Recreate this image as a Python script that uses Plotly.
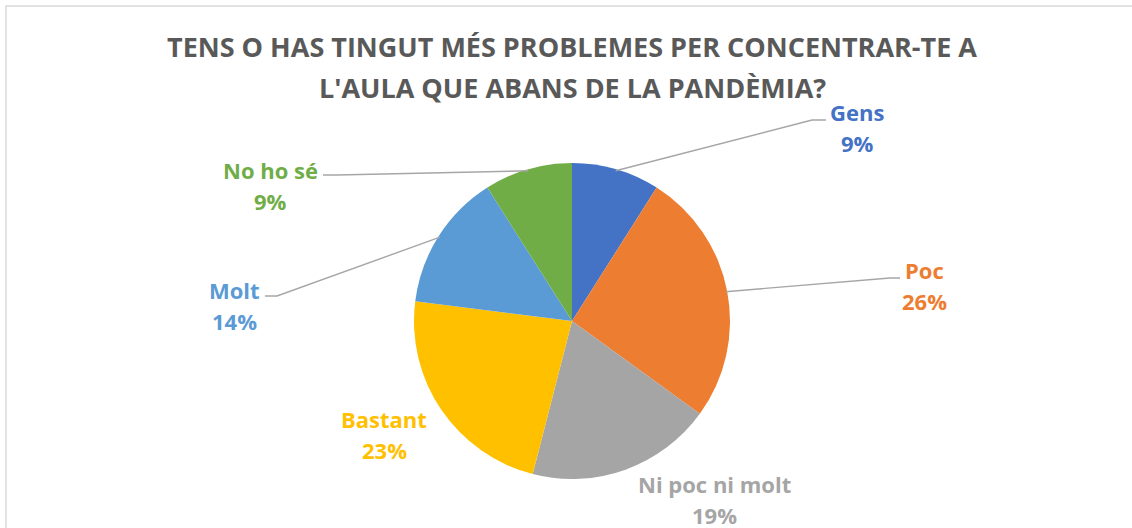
import math
import plotly.graph_objects as go

W, H = 1132, 528

# ---- data ----
categories = ["Gens", "Poc", "Ni poc ni molt", "Bastant", "Molt", "No ho sé"]
values = [9, 26, 19, 23, 14, 9]
colors = ["#4472C4", "#ED7D31", "#A5A5A5", "#FFC000", "#5B9BD5", "#70AD47"]
title_lines = ["TENS O HAS TINGUT MÉS PROBLEMES PER CONCENTRAR-TE A",
               "L'AULA QUE ABANS DE LA PANDÈMIA?"]

# ---- layout (pixel positions) ----
CX, CY, R = 572, 321, 158
label_pos = {  # centre of first text line
    "Gens": (857, 112), "Poc": (924, 270), "Ni poc ni molt": (714, 484),
    "Bastant": (384, 419), "Molt": (234, 290), "No ho sé": (270, 170),
}
leader = {  # (elbow, end) of leader lines
    "Gens": ((812, 120), (826, 120)),
    "Poc": ((890, 278), (900, 278)),
    "Molt": ((277, 296), (265, 296)),
    "No ho sé": ((337, 175), (323, 175)),
}


def px(x):
    return x / W


def py(y):
    return 1 - y / H


fig = go.Figure(go.Pie(
    labels=categories, values=values, sort=False, direction="clockwise",
    rotation=0, textinfo="none", hoverinfo="label+percent",
    marker=dict(colors=colors, line=dict(width=0)),
    domain=dict(x=[px(CX - R), px(CX + R)], y=[py(CY + R), py(CY - R)]),
    showlegend=False,
))

annotations = []
shapes = []
total = sum(values)
cum = 0
for cat, v, col in zip(categories, values, colors):
    mid = (cum + v / 2) / total * 2 * math.pi
    cum += v
    lx, ly = label_pos[cat]
    pct = f"{round(v / total * 100)}%"
    for i, t in enumerate([cat, pct]):
        annotations.append(dict(
            x=px(lx), y=py(ly + i * 31), xref="paper", yref="paper",
            text=f"<b>{t}</b>", showarrow=False, xanchor="center", yanchor="middle",
            font=dict(family="Open Sans", size=22, color=col)))
    if cat in leader:
        sx = CX + 0.99 * R * math.sin(mid)
        sy = CY - 0.99 * R * math.cos(mid)
        (ex, ey), (fx, fy) = leader[cat]
        path = f"M {px(sx)} {py(sy)} L {px(ex)} {py(ey)} L {px(fx)} {py(fy)}"
        shapes.append(dict(type="path", path=path, xref="paper", yref="paper",
                           line=dict(color="#A6A6A6", width=1.4)))

for i, t in enumerate(title_lines):
    annotations.append(dict(
        x=px(572), y=py(47 + i * 41), xref="paper", yref="paper",
        text=f"<b>{t}</b>", showarrow=False, xanchor="center", yanchor="middle",
        font=dict(family="Open Sans", size=27, color="#595959")))

# chart border
shapes.append(dict(type="rect", xref="paper", yref="paper",
                   x0=px(6), x1=px(1140), y0=py(560), y1=py(6),
                   line=dict(color="#D9D9D9", width=1.5), layer="below"))

fig.update_layout(
    width=W, height=H, margin=dict(l=0, r=0, t=0, b=0),
    paper_bgcolor="white", plot_bgcolor="white",
    annotations=annotations, shapes=shapes,
)

fig.write_html("out.html", config={"displayModeBar": False},
               post_script="document.body.style.margin='0';document.body.style.overflow='hidden';")
